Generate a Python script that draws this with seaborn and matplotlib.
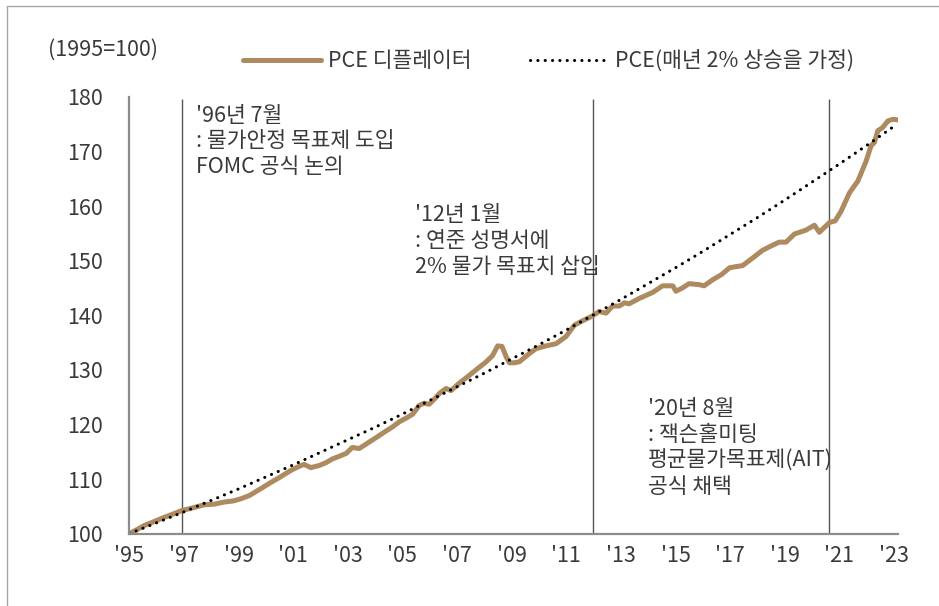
import numpy as np
import pandas as pd
import matplotlib
matplotlib.use("Agg")
import matplotlib.pyplot as plt
from matplotlib.lines import Line2D
import seaborn as sns

# PCE deflator (1995=100)
pce_years = [1995.0, 1995.3, 1995.55, 1995.9, 1996.28, 1996.6, 1996.9, 1997.3, 1997.75, 1998.1,
             1998.48, 1998.8, 1999.09, 1999.4, 1999.7, 2000.19, 2000.5, 2000.92, 2001.2, 2001.4,
             2001.65, 2001.96, 2002.2, 2002.44, 2002.7, 2002.94, 2003.17, 2003.42, 2003.79, 2004.1,
             2004.4, 2004.65, 2004.89, 2005.15, 2005.38, 2005.62, 2005.8, 2005.98, 2006.2, 2006.36,
             2006.6, 2006.78, 2007.09, 2007.45, 2007.82, 2008.05, 2008.3, 2008.49, 2008.65, 2008.8,
             2008.92, 2009.1, 2009.29, 2009.65, 2009.9, 2010.26, 2010.63, 2010.99, 2011.3, 2011.6,
             2011.97, 2012.2, 2012.46, 2012.7, 2012.95, 2013.13, 2013.3, 2013.68, 2014.17, 2014.53,
             2014.9, 2015.02, 2015.25, 2015.5, 2015.88, 2016.05, 2016.36, 2016.7, 2016.98, 2017.2,
             2017.46, 2017.83, 2018.19, 2018.5, 2018.8, 2019.05, 2019.36, 2019.78, 2020.09, 2020.27,
             2020.64, 2020.85, 2021.07, 2021.37, 2021.68, 2021.98, 2022.16, 2022.29, 2022.41, 2022.59,
             2022.78, 2022.96, 2023.12]
pce_values = [100.0, 100.8, 101.5, 102.2, 103.0, 103.6, 104.2, 104.7, 105.3, 105.4,
              105.8, 106.0, 106.4, 107.0, 107.9, 109.4, 110.3, 111.6, 112.3, 112.7,
              112.1, 112.5, 113.0, 113.7, 114.2, 114.7, 115.8, 115.6, 116.8, 117.8,
              118.8, 119.6, 120.5, 121.2, 121.9, 123.5, 123.9, 123.7, 124.8, 125.7,
              126.6, 126.2, 127.6, 129.0, 130.5, 131.4, 132.6, 134.4, 134.3, 132.4,
              131.3, 131.3, 131.5, 133.0, 133.9, 134.4, 134.8, 136.1, 138.2, 139.0,
              139.9, 140.7, 140.4, 141.7, 141.7, 142.3, 142.1, 143.1, 144.2, 145.4,
              145.4, 144.4, 145.0, 145.8, 145.6, 145.4, 146.5, 147.5, 148.7, 148.9,
              149.1, 150.5, 151.9, 152.7, 153.4, 153.4, 154.9, 155.6, 156.5, 155.2,
              157.0, 157.3, 159.1, 162.4, 164.6, 168.2, 171.0, 171.7, 173.8, 174.4,
              175.6, 175.9, 175.8]

# PCE assuming 2% growth per year
trend_years = [1995, 1996, 1997, 1998, 1999, 2000, 2001, 2002, 2003, 2004, 2005, 2006, 2007, 2008,
               2009, 2010, 2011, 2012, 2013, 2014, 2015, 2016, 2017, 2018, 2019, 2020, 2021, 2022,
               2023, 2023.1]
trend_values = [100.0, 102.0, 104.0, 106.1, 108.2, 110.4, 112.6, 114.9, 117.2, 119.5, 121.9, 124.4,
                126.9, 129.4, 132.0, 134.6, 137.3, 140.1, 142.9, 145.8, 148.7, 151.7, 154.8, 157.9,
                161.1, 164.4, 167.7, 171.1, 174.6, 175.0]

event_years = [1996.93, 2011.98, 2020.63]
event_texts = ["'96년 7월\n: 물가안정 목표제 도입\nFOMC 공식 논의",
               "'12년 1월\n: 연준 성명서에\n2% 물가 목표치 삽입",
               "'20년 8월\n: 잭슨홀미팅\n평균물가목표제(AIT)\n공식 채택"]
event_text_pos = [(1997.45, 178.6), (2005.45, 160.3), (2014.0, 124.8)]

xtick_years = list(range(1995, 2024, 2))
xtick_labels = ["'" + str(y)[2:] for y in xtick_years]

sns.set_style("white")
plt.rcParams['font.family'] = ['Noto Sans CJK KR', 'DejaVu Sans']
plt.rcParams['font.weight'] = 'light'

fs = 15.5
txt_color = '#3a3a3a'
axis_color = '#8c8c8c'
brown = '#AE8A60'

pce_df = pd.DataFrame({'year': pce_years, 'value': pce_values})
trend_df = pd.DataFrame({'year': trend_years, 'value': trend_values})

fig = plt.figure(figsize=(9.39, 6.06), dpi=100)
ax = fig.add_axes([129.3 / 939, 72.3 / 606, (898 - 129.3) / 939, (533.7 - 96.9) / 606])

sns.lineplot(data=pce_df, x='year', y='value', ax=ax, color=brown, linewidth=3.6,
             label='PCE 디플레이터', solid_capstyle='round')
sns.lineplot(data=trend_df, x='year', y='value', ax=ax, color='black', linewidth=2.2,
             linestyle=(0, (0.05, 2.35)), dash_capstyle='round',
             label='PCE(매년 2% 상승을 가정)')

for yr in event_years:
    ax.vlines(yr, 100, 179.6, color='#555555', linewidth=1.0, zorder=1)

for (tx, ty), t in zip(event_text_pos, event_texts):
    ax.text(tx, ty, t, fontsize=fs, color=txt_color, va='top', ha='left', linespacing=1.22)

ax.set_xlim(1995, 2023.15)
ax.set_ylim(100, 180)
ax.set_xticks(xtick_years)
ax.set_xticklabels(xtick_labels)
ax.set_yticks(range(100, 181, 10))
ax.set_xlabel('')
ax.set_ylabel('')

for s in ['top', 'right']:
    ax.spines[s].set_visible(False)
for s in ['left', 'bottom']:
    ax.spines[s].set_color(axis_color)
    ax.spines[s].set_linewidth(1.6)

ax.tick_params(axis='both', which='major', direction='out', length=5, width=1.2,
               color=axis_color, labelsize=fs, labelcolor=txt_color)
ax.tick_params(axis='y', pad=14)
ax.tick_params(axis='x', pad=3)

ax.get_legend().remove()
handles, labels = ax.get_legend_handles_labels()
fig.legend(handles, labels, loc='center left', bbox_to_anchor=(243 / 939, 1 - 61 / 606),
           ncol=2, frameon=False, fontsize=fs, handlelength=3.6, handletextpad=0.35,
           columnspacing=2.7, borderpad=0, borderaxespad=0, labelcolor=txt_color)

fig.text(48 / 939, 1 - 50 / 606, '(1995=100)', fontsize=fs, color=txt_color,
         ha='left', va='center')

# thin frame at the top and left edges
fig.add_artist(Line2D([7 / 939, 7 / 939], [0, 1 - 6 / 606], transform=fig.transFigure,
                      color='#a6a6a6', linewidth=1.0))
fig.add_artist(Line2D([7 / 939, 1], [1 - 6 / 606, 1 - 6 / 606], transform=fig.transFigure,
                      color='#a6a6a6', linewidth=1.0))

fig.savefig('out.png', dpi=100)
